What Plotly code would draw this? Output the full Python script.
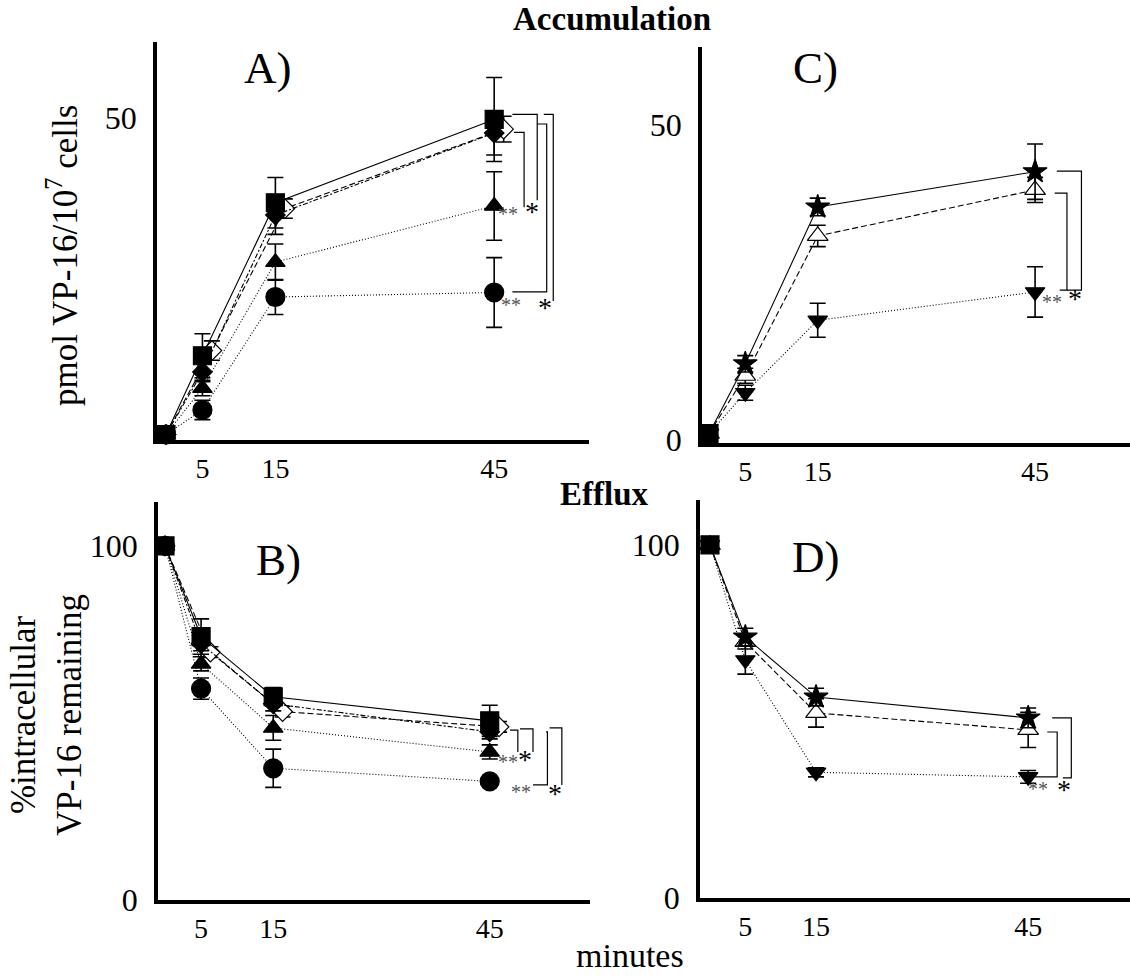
import plotly.graph_objects as go

W, H = 1130, 978
FONT = "Liberation Serif"

times = [0, 5, 15, 45]
OPEN_SHIFT = 1.3  # small horizontal offset of the open-diamond series (as in the original)

# ---------- Panel A: accumulation ----------
accA_square = [1.0, 13.2, 36.9, 49.8]
accA_square_err = [0, 3.4, 3.9, 6.5]
accA_diamond = [1.0, 10.7, 35.0, 47.7]
accA_diamond_err = [0, 1.5, 3.0, 3.4]
accA_open_diamond = [1.0, 14.0, 36.0, 48.3]
accA_open_diamond_err = [0, 1.5, 1.5, 2.0]
accA_triangle = [1.0, 8.2, 27.7, 36.4]
accA_triangle_err = [0, 1.2, 2.8, 5.3]
accA_circle = [1.0, 4.8, 22.3, 23.0]
accA_circle_err = [0, 1.5, 2.7, 5.4]

# ---------- Panel B: efflux ----------
effB_square = [100, 74.4, 57.4, 50.6]
effB_square_err = [0, 5.0, 2.6, 4.4]
effB_diamond = [100, 72.4, 55.4, 47.5]
effB_diamond_err = [0, 2.0, 2.0, 2.0]
effB_open_diamond = [100, 70.0, 53.2, 48.9]
effB_open_diamond_err = [0, 1.5, 1.5, 1.5]
effB_triangle = [100, 66.7, 48.6, 41.8]
effB_triangle_err = [0, 2.0, 3.5, 2.0]
effB_circle = [100, 59.7, 37.2, 33.5]
effB_circle_err = [0, 3.0, 5.4, 1.0]

# ---------- Panel C: accumulation ----------
accC_star = [1.0, 12.1, 37.0, 42.6]
accC_star_err = [0, 1.3, 1.4, 4.4]
accC_open_tri = [1.0, 10.2, 32.4, 39.7]
accC_open_tri_err = [0, 1.2, 1.7, 2.0]
accC_down_tri = [1.0, 7.5, 19.0, 23.5]
accC_down_tri_err = [0, 1.2, 2.7, 4.0]

# ---------- Panel D: efflux ----------
effD_star = [100, 73.9, 56.9, 51.0]
effD_star_err = [0, 2.5, 2.5, 2.8]
effD_open_tri = [100, 72.5, 52.4, 47.6]
effD_open_tri_err = [0, 2.0, 4.0, 5.0]
effD_down_tri = [100, 67.4, 35.6, 34.3]
effD_down_tri_err = [0, 4.0, 1.3, 1.8]

xtick_vals = [5, 15, 45]
xtick_text = ["5", "15", "45"]

# significance brackets: (top, bottom, x_top_left, x_vertical, x_bottom_left, label, label_x, label_y)
brackets = {
    "A": [(50.6, 37.3, 47.5, 50.9, None, "*", 50.2, 36.3),
          (47.8, 36.2, 47.7, 49.1, None, "**", 46.9, 35.8),
          (50.6, 21.7, 51.8, 53.1, None, "*", 52.0, 21.4),
          (49.1, 23.1, 50.9, 52.2, 47.5, "**", 47.3, 21.7)],
    "B": [(48.0, 41.8, 47.8, 48.9, None, "**", 47.5, 40.1),
          (48.3, 41.8, 49.2, 51.0, None, "*", 49.9, 41.0),
          (47.5, 32.5, 52.8, 53.0, 51.0, "**", 49.4, 31.6),
          (48.6, 32.5, 53.3, 55.0, None, "*", 54.0, 31.6)],
    "C": [(42.7, 23.8, 48.0, 51.4, 49.4, "*", 50.5, 23.3),
          (39.2, 23.8, 47.7, 49.4, 48.4, "**", 47.4, 22.5)],
    "D": [(51.0, 34.0, 48.4, 51.1, 49.9, "*", 50.1, 32.0),
          (47.0, 34.3, 47.7, 49.1, 44.8, "**", 46.4, 32.0)],
}

DOT = "1px,2px"
DASH = "6px,3px"
DASHDOT = "5px,2px,2px,2px"

fig = go.Figure()


def add(xa, ya, x, y, err, symbol, size, dash, fill="black"):
    fig.add_trace(go.Scatter(
        x=x, y=y, xaxis=xa, yaxis=ya, mode="lines+markers",
        line=dict(color="black", width=1.1, dash=dash),
        marker=dict(symbol=symbol, size=size, color=fill,
                    line=dict(color="black", width=1.2)),
        error_y=dict(type="data", array=err, visible=True, color="black",
                     thickness=1.6, width=8),
        cliponaxis=False, showlegend=False, hoverinfo="skip"))


shifted = [t + OPEN_SHIFT if t > 0 else t for t in times]

# Panel A (x / y)
add("x", "y", times, accA_circle, accA_circle_err, "circle", 19, DOT)
add("x", "y", times, accA_triangle, accA_triangle_err, "triangle-up", 17, DOT)
add("x", "y", shifted, accA_open_diamond, accA_open_diamond_err, "diamond", 15, DASH, fill="white")
add("x", "y", times, accA_diamond, accA_diamond_err, "diamond", 15, DASHDOT)
add("x", "y", times, accA_square, accA_square_err, "square", 18, "solid")

# Panel B (x3 / y3)
add("x3", "y3", times, effB_circle, effB_circle_err, "circle", 19, DOT)
add("x3", "y3", times, effB_triangle, effB_triangle_err, "triangle-up", 17, DOT)
add("x3", "y3", shifted, effB_open_diamond, effB_open_diamond_err, "diamond", 15, DASH, fill="white")
add("x3", "y3", times, effB_diamond, effB_diamond_err, "diamond", 15, DASHDOT)
add("x3", "y3", times, effB_square, effB_square_err, "square", 18, "solid")

star_syms = ["square", "star", "star", "star"]
# Panel C (x2 / y2)
add("x2", "y2", times, accC_down_tri, accC_down_tri_err, "triangle-down", 17, DOT)
add("x2", "y2", times, accC_open_tri, accC_open_tri_err, "triangle-up", 18, DASH, fill="white")
add("x2", "y2", times, accC_star, accC_star_err, star_syms, 18, "solid")

# Panel D (x4 / y4)
add("x4", "y4", times, effD_down_tri, effD_down_tri_err, "triangle-down", 17, DOT)
add("x4", "y4", times, effD_open_tri, effD_open_tri_err, "triangle-up", 18, DASH, fill="white")
add("x4", "y4", times, effD_star, effD_star_err, star_syms, 18, "solid")


def dx(p0, p1):
    return [p0 / W, p1 / W]


def dy(top, bot):
    return [1 - bot / H, 1 - top / H]


def xaxis(dom, rng, anchor):
    return dict(domain=dom, range=rng, anchor=anchor, showline=True, linewidth=3.5,
                linecolor="black", showgrid=False, zeroline=False, ticks="",
                tickvals=xtick_vals, ticktext=xtick_text, ticklabelstandoff=1,
                automargin=False,
                tickfont=dict(family=FONT, size=28, color="black"), fixedrange=True)


def yaxis(dom, rng, anchor, tv):
    return dict(domain=dom, range=rng, anchor=anchor, showline=True, linewidth=3.5,
                linecolor="black", showgrid=False, zeroline=False, ticks="",
                tickvals=tv, ticklabelstandoff=10, automargin=False,
                tickfont=dict(family=FONT, size=32, color="black"), fixedrange=True)


layout = dict(
    width=W, height=H, autosize=False,
    margin=dict(l=0, r=0, t=0, b=0, pad=0, autoexpand=False),
    paper_bgcolor="white", plot_bgcolor="white", hovermode=False, showlegend=False,
    xaxis=xaxis(dx(157, 589), [-1.23, 58.0], "y"),
    yaxis=yaxis(dy(42, 440), [0.15, 61.8], "x", [0, 50]),
    xaxis2=xaxis(dx(702, 1130), [-0.97, 58.1], "y2"),
    yaxis2=yaxis(dy(47, 443), [-0.48, 62.4], "x2", [0, 50]),
    xaxis3=xaxis(dx(158, 590), [-0.97, 58.9], "y3"),
    yaxis3=yaxis(dy(502, 900), [0, 112.4], "x3", [0, 100]),
    xaxis4=xaxis(dx(700, 1130), [-1.41, 59.4], "y4"),
    yaxis4=yaxis(dy(500, 898), [0, 112.7], "x4", [0, 100]),
)
fig.update_layout(**layout)

shapes = []
annotations = []
refs = {"A": ("x", "y"), "B": ("x3", "y3"), "C": ("x2", "y2"), "D": ("x4", "y4")}
for key, items in brackets.items():
    xr, yr = refs[key]
    for top, bot, x0, xv, xb, lab, lx, ly in items:
        path = f"M {x0},{top} H {xv} V {bot}"
        if xb is not None:
            path += f" H {xb}"
        shapes.append(dict(type="path", path=path, xref=xr, yref=yr,
                           line=dict(color="black", width=1.2)))
        big = lab == "*"
        annotations.append(dict(x=lx, y=ly, xref=xr, yref=yr, text=lab, showarrow=False,
                                xanchor="center", yanchor="middle",
                                yshift=-5 if big else -4,
                                font=dict(family=FONT, size=28 if big else 20,
                                          color="black" if big else "#555555")))

fig.update_layout(shapes=shapes)


def ptext(text, px, py, size, bold=False, angle=0):
    if bold:
        text = f"<b>{text}</b>"
    annotations.append(dict(x=px / W, y=1 - py / H, xref="paper", yref="paper", text=text,
                            showarrow=False, textangle=angle, xanchor="center", yanchor="middle",
                            font=dict(family=FONT, size=size, color="black")))


ptext("Accumulation", 612, 19, 33, bold=True)
ptext("Efflux", 604, 494, 33, bold=True)
ptext("minutes", 630, 955, 34)
ptext("A)", 267, 68, 45)
ptext("C)", 815, 68, 45)
ptext("B)", 278, 560, 45)
ptext("D)", 815, 557, 45)
ptext("pmol VP-16/10<sup>7</sup> cells", 63, 256, 35, angle=-90)
ptext("%intracellular<br>VP-16 remaining", 46, 715, 35, angle=-90)

fig.update_layout(annotations=annotations)
fig.write_html(
    "out.html",
    config={"displayModeBar": False},
    post_script="document.body.style.margin='0';document.body.style.padding='0';"
                "document.body.style.overflow='hidden';"
                "document.documentElement.style.overflow='hidden';",
)
